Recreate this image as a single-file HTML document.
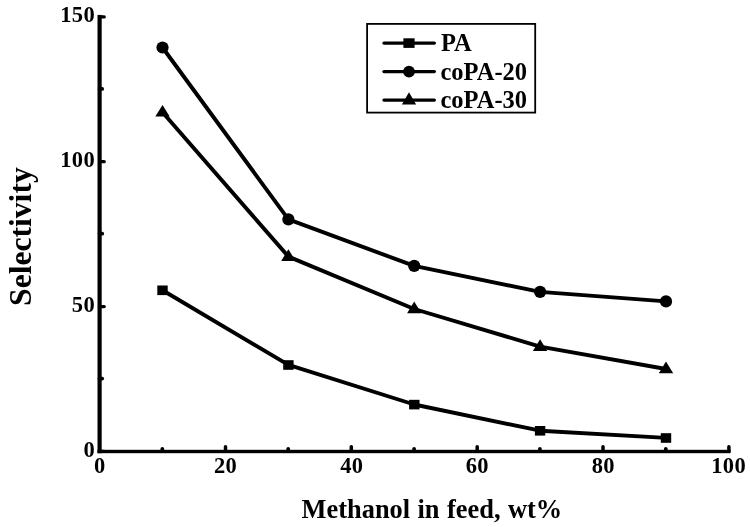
<!DOCTYPE html><html><head><meta charset="utf-8"><style>html,body{margin:0;padding:0;background:#fff;width:750px;height:527px;overflow:hidden;}svg{display:block;will-change:transform;}text{font-family:"Liberation Serif",serif;font-weight:bold;fill:#000;}</style></head><body>
<svg width="750" height="527" viewBox="0 0 750 527">
<rect width="750" height="527" fill="#fff"/>
<rect x="97.5" y="14.9" width="4.2" height="438.3"/>
<rect x="97.5" y="449.8" width="633" height="3.4"/>
<line x1="99.6" y1="451.4" x2="104.2" y2="451.4" stroke="#000" stroke-width="3.3" stroke-linecap="round"/>
<line x1="99.6" y1="306.6" x2="104.2" y2="306.6" stroke="#000" stroke-width="3.3" stroke-linecap="round"/>
<line x1="99.6" y1="161.7" x2="104.2" y2="161.7" stroke="#000" stroke-width="3.3" stroke-linecap="round"/>
<line x1="99.6" y1="16.9" x2="104.2" y2="16.9" stroke="#000" stroke-width="3.3" stroke-linecap="round"/>
<line x1="99.6" y1="378.6" x2="102.2" y2="378.6" stroke="#000" stroke-width="3.8" stroke-linecap="round"/>
<line x1="99.6" y1="233.7" x2="102.2" y2="233.7" stroke="#000" stroke-width="3.8" stroke-linecap="round"/>
<line x1="99.6" y1="88.9" x2="102.2" y2="88.9" stroke="#000" stroke-width="3.8" stroke-linecap="round"/>
<line x1="225.5" y1="451.2" x2="225.5" y2="446.8" stroke="#000" stroke-width="3.5" stroke-linecap="round"/>
<line x1="351.3" y1="451.2" x2="351.3" y2="446.8" stroke="#000" stroke-width="3.5" stroke-linecap="round"/>
<line x1="477.2" y1="451.2" x2="477.2" y2="446.8" stroke="#000" stroke-width="3.5" stroke-linecap="round"/>
<line x1="603.0" y1="451.2" x2="603.0" y2="446.8" stroke="#000" stroke-width="3.5" stroke-linecap="round"/>
<line x1="728.9" y1="451.2" x2="728.9" y2="446.8" stroke="#000" stroke-width="3.5" stroke-linecap="round"/>
<line x1="162.3" y1="451.2" x2="162.3" y2="448.8" stroke="#000" stroke-width="3.7" stroke-linecap="round"/>
<line x1="288.2" y1="451.2" x2="288.2" y2="448.8" stroke="#000" stroke-width="3.7" stroke-linecap="round"/>
<line x1="414.1" y1="451.2" x2="414.1" y2="448.8" stroke="#000" stroke-width="3.7" stroke-linecap="round"/>
<line x1="539.9" y1="451.2" x2="539.9" y2="448.8" stroke="#000" stroke-width="3.7" stroke-linecap="round"/>
<line x1="665.8" y1="451.2" x2="665.8" y2="448.8" stroke="#000" stroke-width="3.7" stroke-linecap="round"/>
<text x="83.40" y="456.6" font-size="22.5" letter-spacing="0.35">0</text>
<text x="71.80" y="311.8" font-size="22.5" letter-spacing="0.35">50</text>
<text x="60.20" y="166.9" font-size="22.5" letter-spacing="0.35">100</text>
<text x="60.20" y="22.1" font-size="22.5" letter-spacing="0.35">150</text>
<text x="93.95" y="472.6" font-size="22.5" letter-spacing="0.35">0</text>
<text x="214.01" y="472.6" font-size="22.5" letter-spacing="0.35">20</text>
<text x="340.17" y="472.6" font-size="22.5" letter-spacing="0.35">40</text>
<text x="465.78" y="472.6" font-size="22.5" letter-spacing="0.35">60</text>
<text x="591.69" y="472.6" font-size="22.5" letter-spacing="0.35">80</text>
<text x="711.20" y="472.6" font-size="22.5" letter-spacing="0.35">100</text>
<text transform="translate(30.8,236.6) rotate(-90)" font-size="31.6" text-anchor="middle">Selectivity</text>
<text x="301.6" y="517.8" font-size="26.4" word-spacing="0.85">Methanol in feed, wt%</text>
<polyline points="162.5,47.5 288.4,219.4 414.2,265.9 540.1,291.9 666.0,301.4" fill="none" stroke="#000" stroke-width="3.9" stroke-linejoin="round"/>
<polyline points="162.5,112.3 288.4,256.6 414.2,309.0 540.1,346.6 666.0,369.0" fill="none" stroke="#000" stroke-width="3.9" stroke-linejoin="round"/>
<polyline points="162.5,290.2 288.4,364.9 414.2,404.5 540.1,430.7 666.0,437.9" fill="none" stroke="#000" stroke-width="3.9" stroke-linejoin="round"/>
<circle cx="162.5" cy="47.5" r="6.1"/>
<circle cx="288.4" cy="219.4" r="6.1"/>
<circle cx="414.2" cy="265.9" r="6.1"/>
<circle cx="540.1" cy="291.9" r="6.1"/>
<circle cx="666.0" cy="301.4" r="6.1"/>
<path d="M162.5 104.9 L169.7 116.6 L155.3 116.6 Z"/>
<path d="M288.4 249.2 L295.6 260.9 L281.2 260.9 Z"/>
<path d="M414.2 301.6 L421.4 313.3 L407.1 313.3 Z"/>
<path d="M540.1 339.2 L547.3 350.9 L532.9 350.9 Z"/>
<path d="M666.0 361.6 L673.2 373.3 L658.8 373.3 Z"/>
<rect x="157.3" y="285.5" width="10.4" height="9.6"/>
<rect x="283.2" y="360.2" width="10.4" height="9.6"/>
<rect x="409.1" y="399.8" width="10.4" height="9.6"/>
<rect x="534.9" y="426.0" width="10.4" height="9.6"/>
<rect x="660.8" y="433.2" width="10.4" height="9.6"/>
<rect x="367.1" y="23.9" width="168.1" height="88.7" fill="none" stroke="#000" stroke-width="1.8"/>
<line x1="384" y1="43.1" x2="434.3" y2="43.1" stroke="#000" stroke-width="3.4" stroke-linecap="round"/>
<rect x="403.4" y="38.300000000000004" width="11.2" height="9.6"/>
<text x="440.90" y="50.6" font-size="24.5">PA</text>
<line x1="384" y1="71.6" x2="434.3" y2="71.6" stroke="#000" stroke-width="3.4" stroke-linecap="round"/>
<circle cx="409" cy="71.6" r="5.9"/>
<text x="440.50" y="79.8" font-size="24.5">coPA-20</text>
<line x1="384" y1="100.1" x2="434.3" y2="100.1" stroke="#000" stroke-width="3.4" stroke-linecap="round"/>
<path d="M409.0 92.3 L416.1 104.4 L401.9 104.4 Z"/>
<text x="440.50" y="107.6" font-size="24.5">coPA-30</text>
</svg></body></html>
